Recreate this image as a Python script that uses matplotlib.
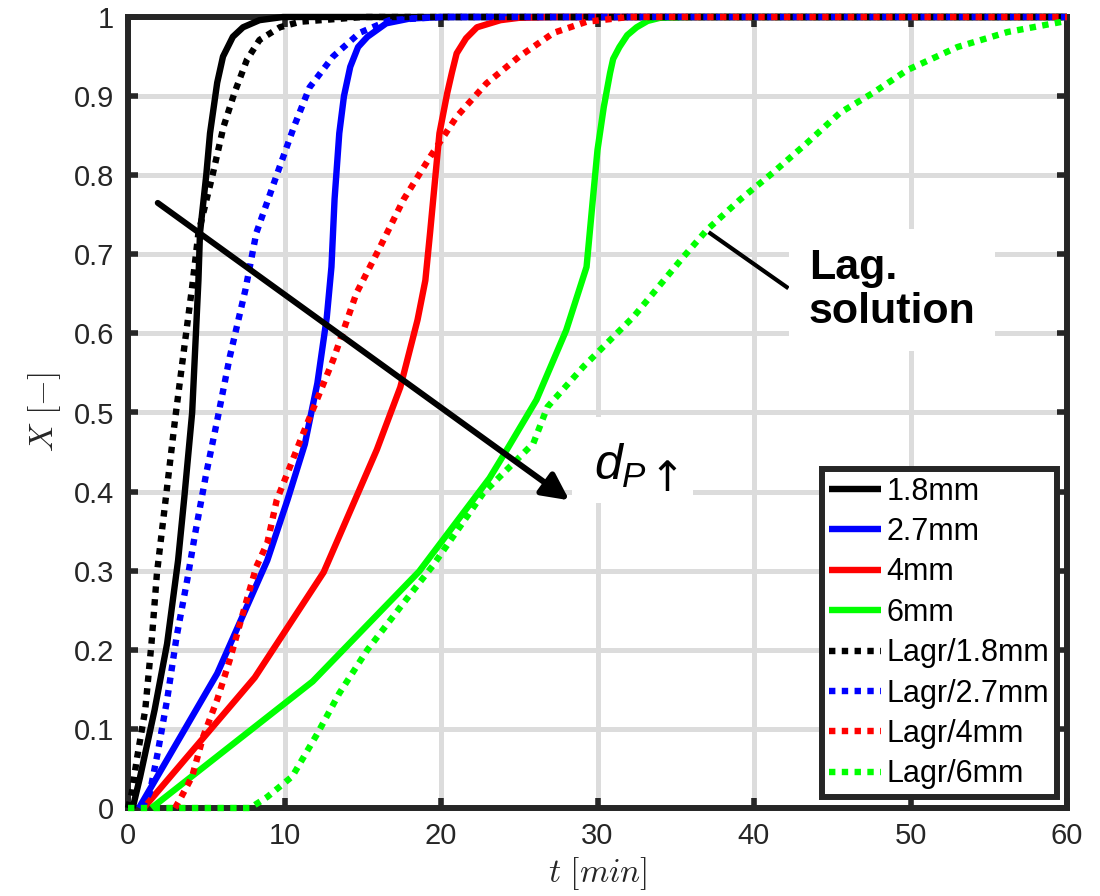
import matplotlib
matplotlib.use("Agg")
import matplotlib.pyplot as plt
from matplotlib.patches import Rectangle

# ---------------- data ----------------
t_18 = [0.3, 0.77, 1.7, 2.5, 3.2, 3.6, 4.1, 4.5, 4.6, 5.0, 5.24, 5.7, 6.07, 6.7, 7.35, 8.4, 9.9, 60]
X_18 = [0.0, 0.039, 0.124, 0.208, 0.313, 0.393, 0.5, 0.667, 0.727, 0.80, 0.853, 0.917, 0.95, 0.975, 0.987, 0.996, 1.0, 1.0]

t_27 = [0.7, 5.7, 8.9, 10.2, 11.3, 12.1, 12.7, 13.0, 13.2, 13.5, 13.8, 14.2, 14.7, 15.3, 16.5, 18.0, 20.0, 60]
X_27 = [0.0, 0.17, 0.313, 0.39, 0.46, 0.537, 0.62, 0.684, 0.77, 0.853, 0.9, 0.937, 0.962, 0.975, 0.992, 0.998, 1.0, 1.0]

t_4 = [1.0, 8.1, 12.5, 15.9, 17.4, 18.5, 19.0, 19.3, 19.6, 19.9, 20.4, 20.7, 21.0, 21.6, 22.3, 23.8, 25.0, 27.0, 60]
X_4 = [0.0, 0.165, 0.298, 0.453, 0.532, 0.617, 0.667, 0.727, 0.79, 0.853, 0.904, 0.93, 0.954, 0.973, 0.987, 0.996, 0.999, 1.0, 1.0]

t_6 = [1.5, 11.8, 18.6, 23.1, 24.3, 26.1, 28.0, 29.3, 29.7, 30.0, 30.4, 30.8, 31.0, 31.4, 31.9, 32.5, 33.2, 34.0, 36.0, 60]
X_6 = [0.0, 0.16, 0.299, 0.417, 0.456, 0.516, 0.604, 0.684, 0.769, 0.832, 0.886, 0.929, 0.947, 0.962, 0.977, 0.987, 0.995, 0.999, 1.0, 1.0]

tL_18 = [0.0, 0.25, 0.55, 1.1, 1.5, 1.85, 2.5, 3.0, 3.6, 4.1, 4.5, 5.4, 6.1, 6.8, 7.6, 8.4, 9.7, 11.0, 15.0, 60]
XL_18 = [0.0, 0.02, 0.06, 0.124, 0.208, 0.297, 0.406, 0.49, 0.583, 0.659, 0.727, 0.80, 0.861, 0.904, 0.946, 0.971, 0.987, 0.994, 1.0, 1.0]

tL_27 = [0.9, 1.4, 1.9, 2.5, 3.1, 3.8, 4.3, 5.0, 5.7, 6.5, 7.5, 8.2, 9.5, 10.6, 11.6, 13.1, 14.8, 16.7, 20.0, 60]
XL_27 = [0.0, 0.02, 0.07, 0.137, 0.216, 0.29, 0.348, 0.423, 0.49, 0.57, 0.655, 0.727, 0.80, 0.861, 0.911, 0.95, 0.98, 0.996, 1.0, 1.0]

tL_4 = [3.0, 3.3, 4.1, 4.8, 5.7, 6.5, 7.4, 8.2, 8.9, 9.5, 11.2, 13.1, 14.6, 16.1, 17.6, 19.3, 21.0, 22.9, 25.0, 27.2, 29.3, 32.0, 60]
XL_4 = [0.0, 0.01, 0.04, 0.09, 0.137, 0.187, 0.25, 0.305, 0.335, 0.389, 0.474, 0.566, 0.651, 0.709, 0.769, 0.823, 0.874, 0.916, 0.95, 0.98, 0.994, 1.0, 1.0]

tL_6 = [0.0, 7.8, 8.9, 10.5, 12.1, 13.5, 15.3, 17.4, 19.5, 22.7, 25.9, 26.8, 29.1, 32.3, 35.5, 37.0, 39.1, 41.2, 43.4, 45.5, 47.6, 49.8, 53.0, 56.2, 59.7, 60]
XL_6 = [0.0, 0.0, 0.014, 0.04, 0.094, 0.145, 0.2, 0.254, 0.307, 0.398, 0.461, 0.507, 0.558, 0.621, 0.697, 0.731, 0.769, 0.803, 0.841, 0.879, 0.904, 0.933, 0.962, 0.981, 0.994, 0.995]

labels = ["1.8mm", "2.7mm", "4mm", "6mm", "Lagr/1.8mm", "Lagr/2.7mm", "Lagr/4mm", "Lagr/6mm"]
colors = ["#000000", "#0000ff", "#ff0000", "#00ff00"]

x_ticks = [0, 10, 20, 30, 40, 50, 60]
y_ticks = [0, 0.1, 0.2, 0.3, 0.4, 0.5, 0.6, 0.7, 0.8, 0.9, 1.0]
y_ticklabels = ["0", "0.1", "0.2", "0.3", "0.4", "0.5", "0.6", "0.7", "0.8", "0.9", "1"]

# ---------------- figure ----------------
plt.rcParams['font.family'] = ['Liberation Sans', 'DejaVu Sans']
plt.rcParams['mathtext.fontset'] = 'custom'
plt.rcParams['mathtext.it'] = 'Liberation Sans:italic'
plt.rcParams['mathtext.rm'] = 'Liberation Sans'

fig = plt.figure(figsize=(11, 8.96), dpi=100)
ax = fig.add_axes([128/1100, 1-808/896, (1067-128)/1100, (808-17)/896])

dark = "#262626"
LW = 4.6

solid = [(t_18, X_18), (t_27, X_27), (t_4, X_4), (t_6, X_6)]
dotted = [(tL_18, XL_18), (tL_27, XL_27), (tL_4, XL_4), (tL_6, XL_6)]
handles = []
for (t, x), c, lab in zip(solid, colors, labels[:4]):
    h, = ax.plot(t, x, color=c, lw=LW, label=lab, zorder=3, clip_on=False,
                 solid_joinstyle='round', solid_capstyle='butt')
    handles.append(h)
for (t, x), c, lab in zip(dotted, colors, labels[4:]):
    h, = ax.plot(t, x, color=c, lw=LW, label=lab, zorder=3, clip_on=False,
                 linestyle=(0, (1, 1)), dash_capstyle='butt')
    handles.append(h)

ax.set_xlim(0, 60)
ax.set_ylim(0, 1)
ax.set_xticks(x_ticks)
ax.set_yticks(y_ticks)
ax.set_yticklabels(y_ticklabels)
ax.set_axisbelow(True)
ax.grid(True, color="#dcdcdc", lw=3.6)
for s in ax.spines.values():
    s.set_linewidth(4.3)
    s.set_color(dark)
    s.set_zorder(2.5)
ax.tick_params(direction='in', length=7, width=4, color=dark, top=True, right=True,
               labelsize=21, labelcolor=dark, pad=10)

ax.set_xlabel(r'$t\ [min]$', fontsize=24, color=dark, math_fontfamily='cm', labelpad=4)
ax.set_ylabel(r'$X\ [-]$', fontsize=24, color=dark, math_fontfamily='cm', labelpad=8)

# arrow and "d_P ↑" annotation
ax.annotate('', xy=(28.2, 0.389), xytext=(1.9, 0.765),
            arrowprops=dict(arrowstyle='-|>', lw=4.3, color='k', mutation_scale=40,
                            shrinkA=0, shrinkB=0), zorder=4)
ax.add_patch(Rectangle((28.4, 0.386), 7.7, 0.108, facecolor='white', edgecolor='none',
                       zorder=3.6))
ax.text(29.8, 0.415, r'$d_P$', fontsize=36, ha='left', va='baseline',
        math_fontfamily='custom', zorder=4)
ax.text(33.3, 0.401, '\u2191', fontsize=30, ha='left', va='baseline',
        family=['DejaVu Sans'], zorder=4)

# "Lag. solution" annotation
ax.plot([37.1, 42.2], [0.728, 0.657], color='k', lw=3, zorder=4, solid_capstyle='butt')
ax.text(43.5, 0.655, 'Lag.\nsolution', fontsize=31, fontweight='bold', ha='left',
        va='center', linespacing=1.12, zorder=4.5,
        bbox=dict(facecolor='white', edgecolor='none', pad=14))

leg = ax.legend(handles=handles, loc='lower right',
                bbox_to_anchor=((1057-128)/939, (808-797)/791),
                borderaxespad=0, fontsize=22, handlelength=1.68, handletextpad=0.2,
                labelspacing=0.34, borderpad=0.25, fancybox=False, framealpha=1,
                edgecolor=dark)
leg.get_frame().set_linewidth(4.3)
leg.set_zorder(6)

fig.savefig('out.png', dpi=100, facecolor='white')
